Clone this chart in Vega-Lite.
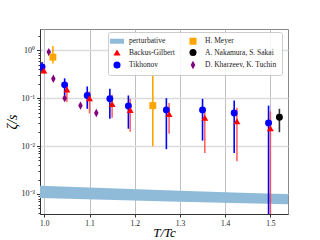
{
  "$schema": "https://vega.github.io/schema/vega-lite/v6.json",
  "autosize": "none",
  "width": 248,
  "height": 185,
  "padding": {"left": 40, "top": 29, "right": 32, "bottom": 26},
  "background": "white",
  "config": {
    "font": "Liberation Serif",
    "view": {"stroke": "#888", "strokeWidth": 1}
  },
  "datasets": {
    "band": [
      {"x": 0.9905, "lo": 0.00082, "hi": 0.00148},
      {"x": 1.3, "lo": 0.00069, "hi": 0.00116},
      {"x": 1.539, "lo": 0.00061, "hi": 0.00099}
    ],
    "pts": [
      {"series": "Kharzeev", "x": 1.010, "y": 0.92, "lo": 0.84, "hi": 1.0},
      {"series": "Kharzeev", "x": 1.020, "y": 0.255, "lo": 0.235, "hi": 0.275},
      {"series": "Kharzeev", "x": 1.045, "y": 0.100, "lo": 0.092, "hi": 0.108},
      {"series": "Kharzeev", "x": 1.080, "y": 0.070, "lo": 0.065, "hi": 0.075},
      {"series": "Kharzeev", "x": 1.115, "y": 0.049, "lo": 0.045, "hi": 0.053},
      {"series": "Tikhonov", "x": 0.995, "y": 0.447, "lo": 0.35, "hi": 0.57},
      {"series": "Tikhonov", "x": 1.045, "y": 0.19, "lo": 0.114, "hi": 0.26},
      {"series": "Tikhonov", "x": 1.095, "y": 0.114, "lo": 0.060, "hi": 0.176},
      {"series": "Tikhonov", "x": 1.145, "y": 0.097, "lo": 0.037, "hi": 0.157},
      {"series": "Tikhonov", "x": 1.186, "y": 0.069, "lo": 0.023, "hi": 0.114},
      {"series": "Tikhonov", "x": 1.270, "y": 0.057, "lo": 0.0086, "hi": 0.10},
      {"series": "Tikhonov", "x": 1.350, "y": 0.057, "lo": 0.013, "hi": 0.097},
      {"series": "Tikhonov", "x": 1.420, "y": 0.049, "lo": 0.0072, "hi": 0.09},
      {"series": "Tikhonov", "x": 1.496, "y": 0.0305, "lo": 0.0001, "hi": 0.07},
      {"series": "Backus-Gilbert", "x": 0.999, "y": 0.38, "lo": 0.33, "hi": 0.44},
      {"series": "Backus-Gilbert", "x": 1.050, "y": 0.152, "lo": 0.083, "hi": 0.18},
      {"series": "Backus-Gilbert", "x": 1.100, "y": 0.100, "lo": 0.048, "hi": 0.138},
      {"series": "Backus-Gilbert", "x": 1.150, "y": 0.076, "lo": 0.039, "hi": 0.118},
      {"series": "Backus-Gilbert", "x": 1.190, "y": 0.057, "lo": 0.020, "hi": 0.097},
      {"series": "Backus-Gilbert", "x": 1.276, "y": 0.047, "lo": 0.018, "hi": 0.079},
      {"series": "Backus-Gilbert", "x": 1.355, "y": 0.039, "lo": 0.0072, "hi": 0.051},
      {"series": "Backus-Gilbert", "x": 1.426, "y": 0.033, "lo": 0.0048, "hi": 0.063},
      {"series": "Backus-Gilbert", "x": 1.500, "y": 0.0235, "lo": 0.0001, "hi": 0.053},
      {"series": "H. Meyer", "x": 1.019, "y": 0.72, "lo": 0.53, "hi": 1.23},
      {"series": "H. Meyer", "x": 1.240, "y": 0.070, "lo": 0.0099, "hi": 0.35},
      {"series": "A. Nakamura, S. Sakai", "x": 1.520, "y": 0.040, "lo": 0.0195, "hi": 0.06}
    ]
  },
  "encoding": {
    "x": {
      "field": "x", "type": "quantitative",
      "scale": {"domain": [0.9905, 1.539], "nice": false, "zero": false},
      "axis": {
        "values": [1.0, 1.1, 1.2, 1.3, 1.4, 1.5],
        "format": ".1f",
        "title": "T/Tc",
        "titleFont": "Liberation Serif",
        "titleFontStyle": "italic",
        "titleFontWeight": "normal",
        "titleFontSize": 13,
        "titleColor": "#000",
        "titlePadding": 0,
        "labelFontSize": 7.5,
        "labelColor": "#222",
        "labelPadding": 2,
        "domainColor": "#333",
        "tickColor": "#333",
        "tickSize": 3,
        "gridColor": "#c0c0c0",
        "gridWidth": 1
      }
    }
  },
  "layer": [
    {
      "data": {"name": "band"},
      "mark": {"type": "area", "color": "#8fbbd9", "opacity": 1, "clip": true},
      "encoding": {
        "y": {
          "field": "lo", "type": "quantitative",
          "scale": {"type": "log", "domain": [0.000381, 2.79], "nice": false},
          "axis": {
            "values": [0.0004, 0.0005, 0.0006, 0.0007, 0.0008, 0.0009, 0.001, 0.002, 0.003, 0.004, 0.005, 0.006, 0.007, 0.008, 0.009, 0.01, 0.02, 0.03, 0.04, 0.05, 0.06, 0.07, 0.08, 0.09, 0.1, 0.2, 0.3, 0.4, 0.5, 0.6, 0.7, 0.8, 0.9, 1, 2],
            "labelExpr": "datum.value == 1 ? '10⁰' : datum.value == 0.1 ? '10⁻¹' : datum.value == 0.01 ? '10⁻²' : datum.value == 0.001 ? '10⁻³' : ''",
            "title": "ζ/s",
            "titleFont": "Liberation Serif",
            "titleFontStyle": "italic",
            "titleFontWeight": "normal",
            "titleFontSize": 14,
            "titleColor": "#000",
            "titlePadding": 2,
            "labelFontSize": 8,
            "labelColor": "#222",
            "labelPadding": 2,
            "domainColor": "#333",
            "tickColor": "#333",
            "tickSize": {"condition": {"test": "indexof([1, 0.1, 0.01, 0.001], datum.value) >= 0", "value": 3.5}, "value": 2},
            "gridColor": "#dcdcdc",
            "gridWidth": 1.6,
            "gridOpacity": {"condition": {"test": "indexof([1, 0.1, 0.01, 0.001], datum.value) >= 0", "value": 1}, "value": 0}
          }
        },
        "y2": {"field": "hi"}
      }
    },
    {
      "data": {"name": "pts"},
      "mark": {"type": "rule", "strokeWidth": 1.6, "clip": true},
      "encoding": {
        "y": {"field": "lo", "type": "quantitative"},
        "y2": {"field": "hi"},
        "stroke": {
          "field": "series", "type": "nominal", "legend": null,
          "scale": {
            "domain": ["Tikhonov", "Backus-Gilbert", "H. Meyer", "A. Nakamura, S. Sakai", "Kharzeev"],
            "range": ["#0000ff", "#ff3333", "#ffa500", "#333333", "#800080"]
          }
        },
        "strokeOpacity": {
          "condition": {"test": "datum.series == 'Backus-Gilbert'", "value": 0.75},
          "value": 1
        }
      }
    },
    {
      "data": {"name": "pts"},
      "transform": [
        {"calculate": "datum.series == 'Kharzeev' ? 'D. Kharzeev, K. Tuchin' : datum.series", "as": "label"}
      ],
      "mark": {"type": "point", "filled": true, "opacity": 1, "size": 48, "clip": true},
      "encoding": {
        "y": {"field": "y", "type": "quantitative"},
        "fill": {
          "field": "label", "type": "nominal",
          "scale": {
            "domain": ["perturbative", "Backus-Gilbert", "Tikhonov", "H. Meyer", "A. Nakamura, S. Sakai", "D. Kharzeev, K. Tuchin"],
            "range": ["#8fbbd9", "#ff0000", "#0000ff", "#ffa500", "#000000", "#800080"]
          },
          "legend": {
            "title": null,
            "orient": "none",
            "legendX": 68,
            "legendY": 3,
            "columns": 2,
            "columnPadding": 14,
            "rowPadding": 3.5,
            "padding": 5,
            "symbolSize": 50,
            "symbolStrokeWidth": 0,
            "labelOffset": 8,
            "labelFontSize": 7.5,
            "labelColor": "#222",
            "labelFont": "Liberation Serif",
            "strokeColor": "#cccccc",
            "fillColor": "rgba(255,255,255,0.85)",
            "cornerRadius": 2
          }
        },
        "shape": {
          "field": "label", "type": "nominal",
          "scale": {
            "domain": ["perturbative", "Backus-Gilbert", "Tikhonov", "H. Meyer", "A. Nakamura, S. Sakai", "D. Kharzeev, K. Tuchin"],
            "range": ["M-2,-0.7L2,-0.7L2,0.7L-2,0.7Z", "triangle-up", "circle", "square", "circle", "M0,-1.2L0.65,0L0,1.2L-0.65,0Z"]
          }
        }
      }
    }
  ]
}
